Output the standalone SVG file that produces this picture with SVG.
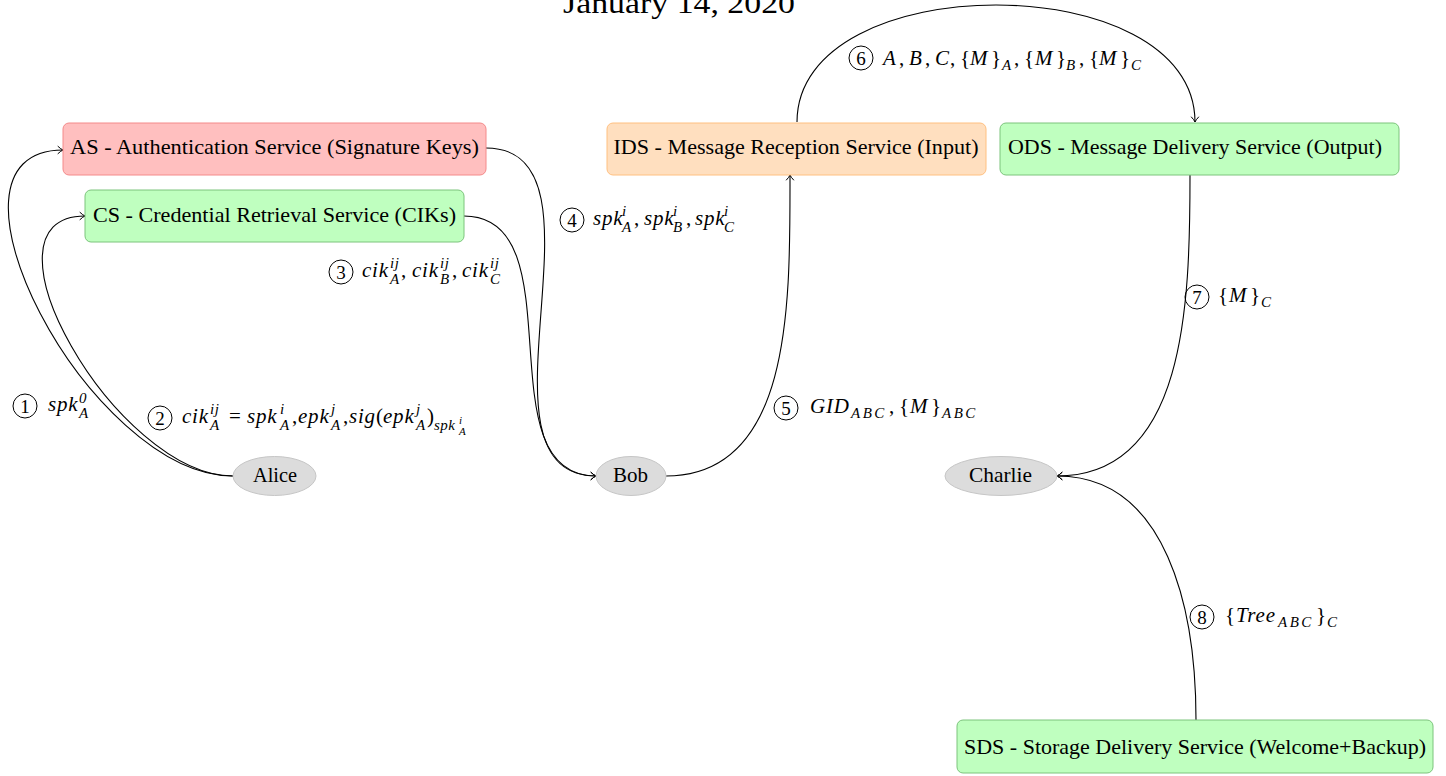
<svg xmlns="http://www.w3.org/2000/svg" width="1446" height="776" viewBox="0 0 1446 776" font-family="'Liberation Serif', serif">
<defs>
<style>
text,tspan{font-family:"Liberation Serif",serif;fill:#000}
.t{font-family:"Liberation Serif",serif;font-size:21px;text-anchor:middle}
.title{font-family:"Liberation Serif",serif;font-size:29px}
.m{font-family:"Liberation Serif",serif;font-size:21px;font-style:italic;letter-spacing:0.8px}
.r{font-style:normal;letter-spacing:0}
.s{font-size:15px;font-style:italic;letter-spacing:0.5px}
.w{letter-spacing:2.5px}
.ss{font-size:11px;font-style:italic}
.n{font-family:"Liberation Serif",serif;font-size:19px;text-anchor:middle}
.circ{fill:none;stroke:#000;stroke-width:1}
.red{fill:#ffbfbf;stroke:#f48a8a;stroke-width:1}
.green{fill:#bfffbf;stroke:#7cc47c;stroke-width:1}
.orange{fill:#ffdfbf;stroke:#ffc080;stroke-width:1}
.ell{fill:#dcdcdc;stroke:#c6c6c6;stroke-width:1}
.c{fill:none;stroke:#000;stroke-width:1.1;marker-end:url(#arr)}
</style>
<marker id="arr" viewBox="-8 -6 10 12" refX="0" refY="0" markerWidth="10" markerHeight="12" orient="auto" markerUnits="userSpaceOnUse">
<path d="M-5,-3.6 Q-2,-0.8 0,0 Q-2,0.8 -5,3.6" fill="none" stroke="#000" stroke-width="1" stroke-linecap="round"/>
</marker>
</defs>

<text class="title" x="563" y="13" font-family="Liberation Serif" textLength="232" lengthAdjust="spacingAndGlyphs">January 14, 2020</text>

<g id="connectors">
<path id="e1" class="c" d="M233,476 C89,476 -81,150 63,150"/>
<path id="e2" class="c" d="M233,476 C116,476 -32,216 85,216"/>
<path id="e3" class="c" d="M464,216 C578,216 482,476 596,476"/>
<path id="e4" class="c" d="M486,148 C621,148 461,476 596,476"/>
<path id="e5" class="c" d="M666,476 C793,476 790,302 790,175"/>
<path id="e6" class="c" d="M797,122 C797,-34 1195,-34 1195,122"/>
<path id="e7" class="c" d="M1190,175 C1190,304 1186,476 1057,476"/>
<path id="e8" class="c" d="M1196,720 C1196,610 1167,476 1057,476"/>
</g>

<g id="AS">
<rect class="red" x="63" y="123" width="423" height="52" rx="6"/>
<text class="t" x="274.5" y="154" font-family="Liberation Serif" textLength="409" lengthAdjust="spacingAndGlyphs">AS - Authentication Service (Signature Keys)</text>
</g>
<g id="CS">
<rect class="green" x="85" y="190" width="379" height="52" rx="6"/>
<text class="t" x="274.5" y="222" font-family="Liberation Serif" textLength="363" lengthAdjust="spacingAndGlyphs">CS - Credential Retrieval Service (CIKs)</text>
</g>
<g id="IDS">
<rect class="orange" x="607" y="123" width="379" height="52" rx="6"/>
<text class="t" x="796" y="154" font-family="Liberation Serif" textLength="365" lengthAdjust="spacingAndGlyphs">IDS - Message Reception Service (Input)</text>
</g>
<g id="ODS">
<rect class="green" x="1000" y="123" width="399" height="52" rx="6"/>
<text class="t" x="1195" y="154" font-family="Liberation Serif" textLength="374" lengthAdjust="spacingAndGlyphs">ODS - Message Delivery Service (Output)</text>
</g>
<g id="SDS">
<rect class="green" x="957" y="720" width="476" height="53" rx="6"/>
<text class="t" x="1195" y="754" font-family="Liberation Serif" textLength="462" lengthAdjust="spacingAndGlyphs">SDS - Storage Delivery Service (Welcome+Backup)</text>
</g>
<g id="Alice">
<ellipse class="ell" cx="274.5" cy="476" rx="41.5" ry="19.5"/>
<text class="t" x="275" y="482" font-family="Liberation Serif" textLength="44" lengthAdjust="spacingAndGlyphs">Alice</text>
</g>
<g id="Bob">
<ellipse class="ell" cx="631" cy="476" rx="35" ry="19.5"/>
<text class="t" x="630.5" y="482" font-family="Liberation Serif" textLength="35" lengthAdjust="spacingAndGlyphs">Bob</text>
</g>
<g id="Charlie">
<ellipse class="ell" cx="1001" cy="476" rx="56" ry="19.5"/>
<text class="t" x="1000.5" y="482" font-family="Liberation Serif" textLength="63" lengthAdjust="spacingAndGlyphs">Charlie</text>
</g>

<g id="labels">
<g id="l1">
<circle class="circ" cx="25" cy="406" r="12"/><text class="n" x="25" y="413">1</text>
<text class="m"><tspan x="48" y="411">spk</tspan><tspan class="s r" x="79" y="403">0</tspan><tspan class="s" x="79" y="418">A</tspan></text>
</g>
<g id="l2">
<circle class="circ" cx="160" cy="418" r="12"/><text class="n" x="160" y="425">2</text>
<text class="m"><tspan x="182" y="423">cik</tspan><tspan class="s" x="210" y="414">ij</tspan><tspan class="s" x="210" y="430">A</tspan><tspan class="r" x="229" y="423">=</tspan><tspan x="247" y="423">spk</tspan><tspan class="s" x="280" y="414">i</tspan><tspan class="s" x="280" y="430">A</tspan><tspan class="r" x="292" y="423">,</tspan><tspan x="298" y="423">epk</tspan><tspan class="s" x="331" y="414">j</tspan><tspan class="s" x="331" y="430">A</tspan><tspan class="r" x="343" y="423">,</tspan><tspan x="349" y="423">sig</tspan><tspan class="r" x="376" y="423">(</tspan><tspan x="383" y="423">epk</tspan><tspan class="s" x="416" y="414">j</tspan><tspan class="s" x="416" y="430">A</tspan><tspan class="r" x="427" y="423">)</tspan><tspan class="s" x="434" y="430">spk</tspan><tspan class="ss" x="459" y="424">i</tspan><tspan class="ss" x="459" y="435">A</tspan></text>
</g>
<g id="l3">
<circle class="circ" cx="341" cy="272" r="12"/><text class="n" x="341" y="279">3</text>
<text class="m"><tspan x="362" y="277">cik</tspan><tspan class="s" x="390" y="268">ij</tspan><tspan class="s" x="390" y="284">A</tspan><tspan class="r" x="401" y="277">,</tspan><tspan x="412" y="277">cik</tspan><tspan class="s" x="440" y="268">ij</tspan><tspan class="s" x="440" y="284">B</tspan><tspan class="r" x="452" y="277">,</tspan><tspan x="462" y="277">cik</tspan><tspan class="s" x="490" y="268">ij</tspan><tspan class="s" x="490" y="284">C</tspan></text>
</g>
<g id="l4">
<circle class="circ" cx="572" cy="220" r="12"/><text class="n" x="572" y="227">4</text>
<text class="m"><tspan x="593" y="225">spk</tspan><tspan class="s" x="622" y="216">i</tspan><tspan class="s" x="622" y="232">A</tspan><tspan class="r" x="634" y="225">,</tspan><tspan x="644" y="225">spk</tspan><tspan class="s" x="673" y="216">i</tspan><tspan class="s" x="673" y="232">B</tspan><tspan class="r" x="686" y="225">,</tspan><tspan x="695" y="225">spk</tspan><tspan class="s" x="724" y="216">i</tspan><tspan class="s" x="724" y="232">C</tspan></text>
</g>
<g id="l5">
<circle class="circ" cx="786" cy="408" r="12"/><text class="n" x="786" y="415">5</text>
<text class="m"><tspan x="810" y="413">GID</tspan><tspan class="s w" x="851" y="418">ABC</tspan><tspan class="r" x="889" y="413">,</tspan><tspan class="r" x="899" y="413">{</tspan><tspan x="910" y="413">M</tspan><tspan class="r" x="931" y="413">}</tspan><tspan class="s w" x="942" y="418">ABC</tspan></text>
</g>
<g id="l6">
<circle class="circ" cx="861" cy="58" r="12"/><text class="n" x="861" y="65">6</text>
<text class="m"><tspan x="883" y="65">A</tspan><tspan class="r" x="899" y="65">,</tspan><tspan x="909" y="65">B</tspan><tspan class="r" x="925" y="65">,</tspan><tspan x="935" y="65">C</tspan><tspan class="r" x="950" y="65">,</tspan><tspan class="r" x="960" y="65">{</tspan><tspan x="970" y="65">M</tspan><tspan class="r" x="991" y="65">}</tspan><tspan class="s" x="1002" y="70">A</tspan><tspan class="r" x="1014" y="65">,</tspan><tspan class="r" x="1024" y="65">{</tspan><tspan x="1035" y="65">M</tspan><tspan class="r" x="1056" y="65">}</tspan><tspan class="s" x="1066" y="70">B</tspan><tspan class="r" x="1079" y="65">,</tspan><tspan class="r" x="1089" y="65">{</tspan><tspan x="1099" y="65">M</tspan><tspan class="r" x="1120" y="65">}</tspan><tspan class="s" x="1131" y="70">C</tspan></text>
</g>
<g id="l7">
<circle class="circ" cx="1197" cy="297" r="12"/><text class="n" x="1197" y="304">7</text>
<text class="m"><tspan class="r" x="1218" y="302">{</tspan><tspan x="1229" y="302">M</tspan><tspan class="r" x="1250" y="302">}</tspan><tspan class="s" x="1261" y="307">C</tspan></text>
</g>
<g id="l8">
<circle class="circ" cx="1202" cy="617" r="12"/><text class="n" x="1202" y="624">8</text>
<text class="m"><tspan class="r" x="1225" y="622">{</tspan><tspan x="1236" y="622">Tree</tspan><tspan class="s w" x="1278" y="627">ABC</tspan><tspan class="r" x="1316" y="622">}</tspan><tspan class="s" x="1327" y="627">C</tspan></text>
</g>
</g>
</svg>
